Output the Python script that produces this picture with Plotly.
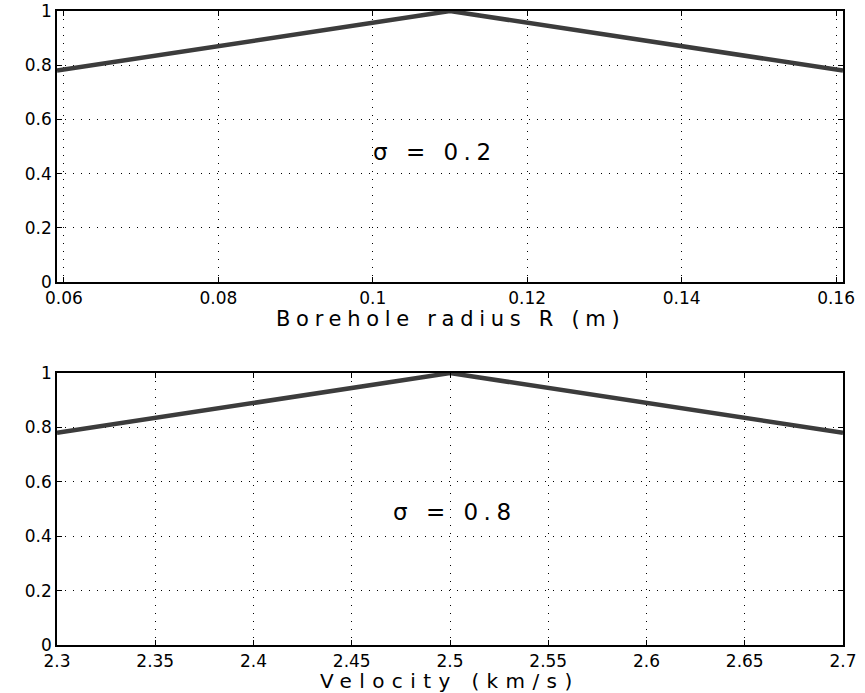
import plotly.graph_objects as go
from plotly.subplots import make_subplots

# Data
radius_m = [0.0591, 0.11, 0.1609]
radius_resp = [0.78, 1.0, 0.78]
velocity_kms = [2.3, 2.5, 2.7]
velocity_resp = [0.78, 1.0, 0.78]

radius_ticks = [0.06, 0.08, 0.1, 0.12, 0.14, 0.16]
radius_ticktext = ["0.06", "0.08", "0.1", "0.12", "0.14", "0.16"]
velocity_ticks = [2.3, 2.35, 2.4, 2.45, 2.5, 2.55, 2.6, 2.65, 2.7]
velocity_ticktext = ["2.3", "2.35", "2.4", "2.45", "2.5", "2.55", "2.6", "2.65", "2.7"]
y_ticks = [0, 0.2, 0.4, 0.6, 0.8, 1]
y_ticktext = ["0", "0.2", "0.4", "0.6", "0.8", "1"]

xlabel_top = "Borehole radius R (m)"
xlabel_bottom = "Velocity (km/s)"
sigma_top = "σ = 0.2"
sigma_bottom = "σ = 0.8"

FONT = "DejaVu Sans, Liberation Sans, Arial, sans-serif"
LINE_COLOR = "#3c3c3c"


def spaced(t, px):
    return f'<span style="letter-spacing:{px}px">{t}</span>'


fig = make_subplots(rows=2, cols=1, vertical_spacing=0.1)

fig.add_trace(go.Scatter(x=radius_m, y=radius_resp, mode="lines",
                         line=dict(color=LINE_COLOR, width=4.5), showlegend=False),
              row=1, col=1)
fig.add_trace(go.Scatter(x=velocity_kms, y=velocity_resp, mode="lines",
                         line=dict(color=LINE_COLOR, width=4.5), showlegend=False),
              row=2, col=1)

axis_common = dict(
    showline=True, linecolor="black", linewidth=1.5, mirror="ticks",
    ticks="inside", ticklen=5, tickcolor="black", tickwidth=1,
    showgrid=True, gridcolor="black", gridwidth=1, griddash="1px,7px",
    zeroline=False, automargin=False,
    tickfont=dict(family=FONT, size=17, color="black"),
)

fig.update_xaxes(**axis_common)
fig.update_yaxes(**axis_common)

fig.update_xaxes(range=[0.0591, 0.1609], tickvals=radius_ticks,
                 ticktext=radius_ticktext, domain=[0, 1], row=1, col=1)
fig.update_xaxes(range=[2.3, 2.7], tickvals=velocity_ticks,
                 ticktext=velocity_ticktext, domain=[0, 1], row=2, col=1)
fig.update_yaxes(range=[0, 1], tickvals=y_ticks, ticktext=y_ticktext,
                 domain=[0.5726, 1], row=1, col=1)
fig.update_yaxes(range=[0, 1], tickvals=y_ticks, ticktext=y_ticktext,
                 domain=[0, 0.429], row=2, col=1)

# axis titles as annotations for exact placement
fig.add_annotation(x=0.5, y=0, xref="x domain", yref="y domain", yanchor="middle",
                   yshift=-37, text=spaced(xlabel_top, 5.7), showarrow=False,
                   font=dict(family=FONT, size=21, color="black"))
fig.add_annotation(x=0.5, y=0, xref="x2 domain", yref="y2 domain", yanchor="middle",
                   yshift=-36, text=spaced(xlabel_bottom, 7.4), showarrow=False,
                   font=dict(family=FONT, size=20, color="black"))

fig.add_annotation(x=0.1081, y=0.48, xref="x", yref="y", text=spaced(sigma_top, 5.5),
                   showarrow=False, font=dict(family=FONT, size=23, color="black"))
fig.add_annotation(x=2.5023, y=0.489, xref="x2", yref="y2", text=spaced(sigma_bottom, 5.5),
                   showarrow=False, font=dict(family=FONT, size=23, color="black"))

fig.update_layout(
    width=865, height=693,
    margin=dict(l=57, r=22, t=11, b=48),
    paper_bgcolor="white", plot_bgcolor="white",
    showlegend=False,
)

fig.write_html("out.html")
